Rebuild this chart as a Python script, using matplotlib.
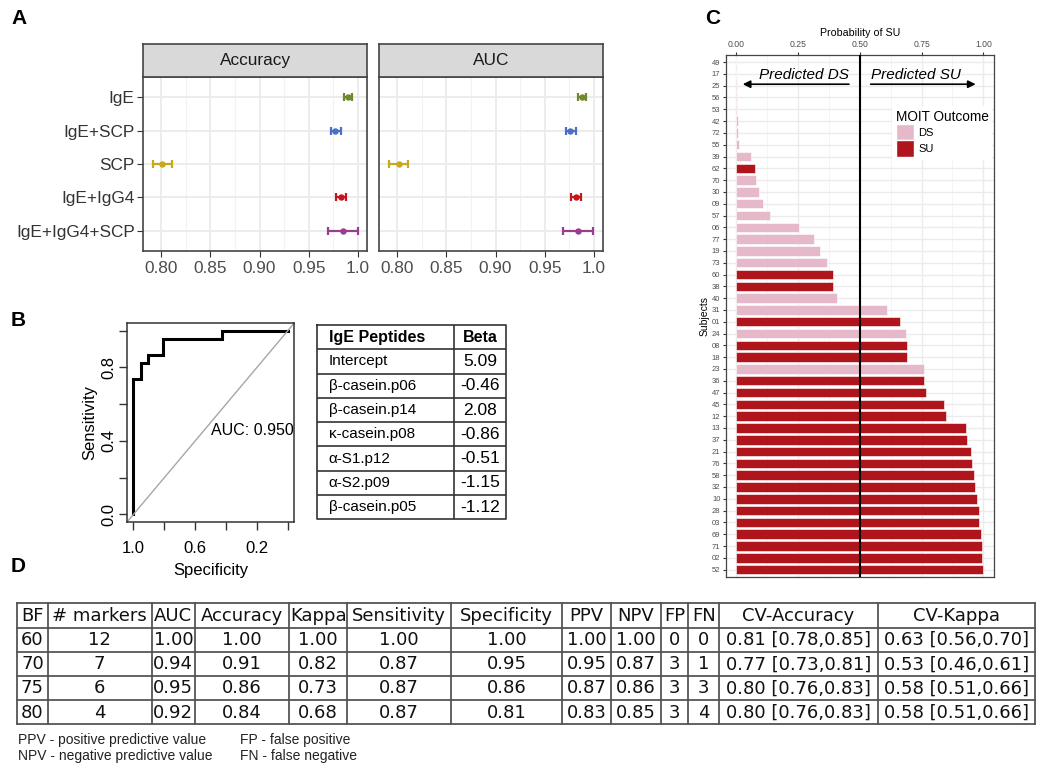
import matplotlib
matplotlib.use('Agg')
import matplotlib.pyplot as plt
from matplotlib.patches import Patch
import numpy as np

plt.rcParams['font.family'] = ['Liberation Sans', 'DejaVu Sans']

W, H = 1050, 773


def box(l, t, r, b):
    # pixel box -> figure fraction rect
    return [l / W, 1 - b / H, (r - l) / W, (b - t) / H]


def ftext(x, y, s, **kw):
    fig.text(x / W, 1 - y / H, s, **kw)


# ---- panel A data ----
models = ['IgE', 'IgE+SCP', 'SCP', 'IgE+IgG4', 'IgE+IgG4+SCP']
model_colors = ['#6e8a2c', '#4a6fc3', '#c8a91c', '#c4161c', '#993d8e']
acc_mean = [0.9895, 0.977, 0.801, 0.983, 0.985]
acc_lo = [0.9855, 0.9725, 0.792, 0.978, 0.970]
acc_hi = [0.994, 0.9825, 0.8115, 0.988, 1.000]
auc_mean = [0.988, 0.976, 0.8015, 0.982, 0.984]
auc_lo = [0.984, 0.9715, 0.792, 0.977, 0.9685]
auc_hi = [0.992, 0.9815, 0.8115, 0.9865, 0.9995]

# ---- panel B data ----
roc_spec = [1.0, 1.0, 0.952, 0.905, 0.810, 0.429, 0.0]
roc_sens = [0.0, 0.739, 0.826, 0.870, 0.957, 1.0, 1.0]
auc_label = 'AUC: 0.950'
peptides = ['Intercept', 'β-casein.p06', 'β-casein.p14', 'κ-casein.p08',
            'α-S1.p12', 'α-S2.p09', 'β-casein.p05']
betas = ['5.09', '-0.46', '2.08', '-0.86', '-0.51', '-1.15', '-1.12']

# ---- panel C data ----
subjects = ['49', '17', '25', '56', '53', '42', '72', '55', '39', '62', '70',
            '30', '09', '57', '06', '77', '19', '73', '60', '38', '40', '31',
            '01', '24', '08', '18', '23', '36', '47', '45', '12', '13', '37',
            '21', '76', '58', '32', '10', '28', '03', '69', '71', '02', '52']
prob_su = [0.0005, 0.001, 0.003, 0.004, 0.005, 0.006, 0.008, 0.013, 0.059,
           0.077, 0.080, 0.092, 0.110, 0.139, 0.255, 0.317, 0.341, 0.369,
           0.391, 0.394, 0.410, 0.612, 0.663, 0.689, 0.693, 0.693, 0.762,
           0.762, 0.768, 0.842, 0.850, 0.929, 0.934, 0.952, 0.956, 0.964,
           0.966, 0.976, 0.981, 0.984, 0.992, 0.994, 0.996, 0.998]
outcome = ['DS', 'DS', 'DS', 'DS', 'DS', 'DS', 'DS', 'DS', 'DS', 'SU', 'DS',
           'DS', 'DS', 'DS', 'DS', 'DS', 'DS', 'DS', 'SU', 'SU', 'DS', 'DS',
           'SU', 'DS', 'SU', 'SU', 'DS', 'SU', 'SU', 'SU', 'SU', 'SU', 'SU',
           'SU', 'SU', 'SU', 'SU', 'SU', 'SU', 'SU', 'SU', 'SU', 'SU', 'SU']
outcome_colors = {'DS': '#e5b9c9', 'SU': '#b0151b'}

# ---- panel D data ----
d_header = ['BF', '# markers', 'AUC', 'Accuracy', 'Kappa', 'Sensitivity',
            'Specificity', 'PPV', 'NPV', 'FP', 'FN', 'CV-Accuracy', 'CV-Kappa']
d_rows = [
    ['60', '12', '1.00', '1.00', '1.00', '1.00', '1.00', '1.00', '1.00', '0', '0',
     '0.81 [0.78,0.85]', '0.63 [0.56,0.70]'],
    ['70', '7', '0.94', '0.91', '0.82', '0.87', '0.95', '0.95', '0.87', '3', '1',
     '0.77 [0.73,0.81]', '0.53 [0.46,0.61]'],
    ['75', '6', '0.95', '0.86', '0.73', '0.87', '0.86', '0.87', '0.86', '3', '3',
     '0.80 [0.76,0.83]', '0.58 [0.51,0.66]'],
    ['80', '4', '0.92', '0.84', '0.68', '0.87', '0.81', '0.83', '0.85', '3', '4',
     '0.80 [0.76,0.83]', '0.58 [0.51,0.66]'],
]
footnotes_left = ['PPV - positive predictive value', 'NPV - negative predictive value']
footnotes_right = ['FP - false positive', 'FN - false negative']

fig = plt.figure(figsize=(10.5, 7.73), dpi=100)

# panel letters
for letter, x, y in [('A', 19, 18), ('B', 18, 320), ('C', 713, 18), ('D', 18, 567)]:
    ftext(x, y, letter, fontsize=15, fontweight='bold', ha='center', va='center')

# ================= Panel A =================
ypos = np.arange(len(models))[::-1] + 1
for i, (title, mean, lo, hi, left) in enumerate([
        ('Accuracy', acc_mean, acc_lo, acc_hi, 143),
        ('AUC', auc_mean, auc_lo, auc_hi, 379)]):
    ax = fig.add_axes(box(left, 77, left + 224, 251))
    strip = fig.add_axes(box(left, 44, left + 224, 77))
    strip.set_facecolor('#d9d9d9')
    strip.set_xticks([])
    strip.set_yticks([])
    for sp in strip.spines.values():
        sp.set_color('#444444')
        sp.set_linewidth(1.2)
    strip.text(0.5, 0.5, title, ha='center', va='center', fontsize=12.4,
               color='#1a1a1a', transform=strip.transAxes)

    ax.set_xlim(0.7816, 1.0092)
    ax.set_ylim(0.4, 5.6)
    ax.set_xticks([0.80, 0.85, 0.90, 0.95, 1.0])
    ax.set_xticklabels(['0.80', '0.85', '0.90', '0.95', '1.0'])
    ax.set_xticks([0.825, 0.875, 0.925, 0.975], minor=True)
    ax.set_yticks(ypos)
    ax.grid(which='major', color='#ebebeb', lw=1.3)
    ax.grid(which='minor', axis='x', color='#f2f2f2', lw=0.8)
    ax.set_axisbelow(True)
    for sp in ax.spines.values():
        sp.set_color('#444444')
        sp.set_linewidth(1.2)
    ax.tick_params(which='minor', length=0)
    ax.tick_params(axis='x', length=4, color='#333333', labelsize=12.4,
                   labelcolor='#4d4d4d', pad=3)
    if i == 0:
        ax.set_yticklabels(models)
        ax.tick_params(axis='y', length=4, color='#333333', labelsize=12.4,
                       labelcolor='#333333', pad=2)
    else:
        ax.set_yticklabels([])
        ax.tick_params(axis='y', length=0)
    for k in range(len(models)):
        ax.errorbar(mean[k], ypos[k],
                    xerr=[[mean[k] - lo[k]], [hi[k] - mean[k]]],
                    fmt='o', ms=3.6, color=model_colors[k], ecolor=model_colors[k],
                    elinewidth=1.6, capsize=3, capthick=1.6)

# ================= Panel B: ROC =================
axB = fig.add_axes(box(127.3, 323.3, 294, 521.7))
axB.plot(roc_spec, roc_sens, color='black', lw=2.2, drawstyle='steps-post',
         solid_joinstyle='miter')
axB.axline((1, 0), (0, 1), color='#a6a6a6', lw=1)
axB.set_xlim(1.04, -0.04)
axB.set_ylim(-0.04, 1.04)
axB.set_xticks([1.0, 0.8, 0.6, 0.4, 0.2, 0.0])
axB.set_xticklabels(['1.0', '', '0.6', '', '0.2', ''])
axB.set_yticks([0.0, 0.2, 0.4, 0.6, 0.8, 1.0])
axB.set_yticklabels(['0.0', '', '0.4', '', '0.8', ''], rotation=90, va='center')
axB.tick_params(length=6, width=1, color='#333333', labelsize=12)
axB.tick_params(axis='x', pad=8)
axB.tick_params(axis='y', pad=2)
for sp in axB.spines.values():
    sp.set_color('#333333')
    sp.set_linewidth(1.1)
axB.text(0.5, 0.455, auc_label, ha='left', va='center', fontsize=11.5)
axB.set_xlabel('Specificity', fontsize=12, labelpad=5)
axB.set_ylabel('Sensitivity', fontsize=12, labelpad=3)

# table in panel B
axT = fig.add_axes(box(317.3, 325, 506, 519.3))
axT.set_xlim(0, 1)
axT.set_ylim(8, 0)
axT.axis('off')
col_split = 0.7245
lc = '#333333'
axT.plot([0, 1, 1, 0, 0], [0, 0, 8, 8, 0], color=lc, lw=1.2, clip_on=False)
axT.plot([col_split, col_split], [0, 8], color=lc, lw=1.2)
for r in range(1, 8):
    axT.plot([0, 1], [r, r], color=lc, lw=1.2)
axT.text(0.06, 0.5, 'IgE Peptides', fontweight='bold', fontsize=11.5, va='center')
axT.text(0.862, 0.5, 'Beta', fontweight='bold', fontsize=11.5, va='center', ha='center')
for r, (pep, b) in enumerate(zip(peptides, betas)):
    axT.text(0.06, r + 1.5, pep, fontsize=11, va='center')
    axT.text(0.862, r + 1.5, b, fontsize=12.5, va='center', ha='center')

# ================= Panel C =================
axC = fig.add_axes(box(726, 55, 994, 576.7))
n = len(subjects)
yc = np.arange(n)[::-1] + 1
axC.barh(yc, prob_su, height=0.8, color=[outcome_colors[o] for o in outcome],
         edgecolor='white', lw=0.4, zorder=2)
axC.axvline(0.5, color='black', lw=1.5, zorder=3)
axC.set_xlim(-0.0405, 1.043)
axC.set_ylim(0.4, n + 0.6)
axC.xaxis.tick_top()
axC.xaxis.set_label_position('top')
axC.set_xticks([0, 0.25, 0.5, 0.75, 1.0])
axC.set_xticklabels(['0.00', '0.25', '0.50', '0.75', '1.00'])
axC.set_xticks([0.125, 0.375, 0.625, 0.875], minor=True)
axC.set_yticks(yc)
axC.set_yticklabels(subjects)
axC.grid(which='major', color='#ebebeb', lw=1.0, zorder=0)
axC.grid(which='minor', axis='x', color='#f3f3f3', lw=0.6, zorder=0)
axC.set_axisbelow(True)
axC.tick_params(which='minor', length=0)
axC.tick_params(axis='x', length=2.5, color='#333333', labelsize=6.2,
                labelcolor='#4d4d4d', pad=1.5)
axC.tick_params(axis='y', length=2.5, color='#333333', labelsize=5.5,
                labelcolor='#4d4d4d', pad=1.5)
for sp in axC.spines.values():
    sp.set_color('#444444')
    sp.set_linewidth(0.9)
axC.set_xlabel('Probability of SU', fontsize=7.7, labelpad=3)
axC.set_ylabel('Subjects', fontsize=7.5, labelpad=2)

tr = axC.get_xaxis_transform()
axC.annotate('', xy=(0.016, 0.944), xytext=(0.468, 0.944), xycoords=tr,
             textcoords=tr, arrowprops=dict(arrowstyle='-|>', color='black',
                                            lw=1.2, mutation_scale=11))
axC.annotate('', xy=(0.98, 0.944), xytext=(0.533, 0.944), xycoords=tr,
             textcoords=tr, arrowprops=dict(arrowstyle='-|>', color='black',
                                            lw=1.2, mutation_scale=11))
axC.text(0.275, 0.962, 'Predicted DS', transform=tr, ha='center', va='center',
         fontsize=11, style='italic')
axC.text(0.727, 0.962, 'Predicted SU', transform=tr, ha='center', va='center',
         fontsize=11, style='italic')

handles = [Patch(facecolor=outcome_colors['DS'], edgecolor='white'),
           Patch(facecolor=outcome_colors['SU'], edgecolor='white')]
leg = axC.legend(handles, ['DS', 'SU'], title='MOIT Outcome', loc='upper left',
                 bbox_to_anchor=(0.6, 0.912), frameon=True, framealpha=1,
                 edgecolor='none', fontsize=8, title_fontsize=9.8,
                 handlelength=1.65, handleheight=1.9, labelspacing=0.0,
                 borderpad=0.3, handletextpad=0.4, alignment='left')
leg.set_zorder(5)

# ================= Panel D =================
col_edges = [17.3, 47.7, 151.7, 195, 289, 347.3, 450.7, 562.3, 611, 660.7,
             688.3, 719.3, 877.7, 1035]
row_edges = [603.3, 627.5, 651.7, 675.9, 700, 724]
axD = fig.add_axes(box(17.3, 603.3, 1035, 724))
axD.set_xlim(col_edges[0], col_edges[-1])
axD.set_ylim(row_edges[-1], row_edges[0])
axD.axis('off')
for x in col_edges:
    axD.plot([x, x], [row_edges[0], row_edges[-1]], color='#555555', lw=1.3,
             clip_on=False)
for y in row_edges:
    axD.plot([col_edges[0], col_edges[-1]], [y, y], color='#555555', lw=1.3,
             clip_on=False)
for r, row in enumerate([d_header] + d_rows):
    yc_ = (row_edges[r] + row_edges[r + 1]) / 2
    for c, val in enumerate(row):
        xc = (col_edges[c] + col_edges[c + 1]) / 2
        axD.text(xc, yc_ + 0.5, val, ha='center', va='center', fontsize=13,
                 family='DejaVu Sans', color='#111111')

for k, s in enumerate(footnotes_left):
    ftext(18, 740 + k * 16, s, fontsize=10, va='center', color='#222222')
for k, s in enumerate(footnotes_right):
    ftext(240, 740 + k * 16, s, fontsize=10, va='center', color='#222222')

fig.savefig('out.png', dpi=100)
